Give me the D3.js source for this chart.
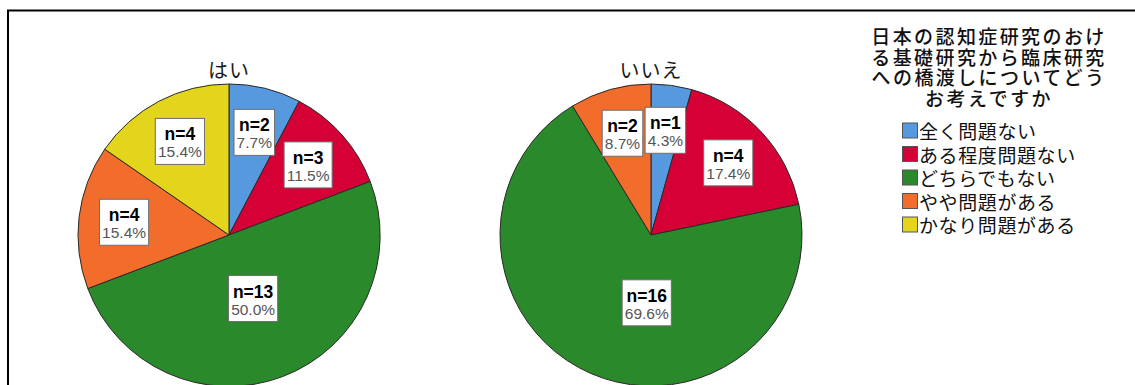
<!DOCTYPE html>
<html>
<head>
<meta charset="utf-8">
<script src="https://cdn.jsdelivr.net/npm/d3@7"></script>
<style>
  html, body { margin: 0; padding: 0; background: #fff; }
  svg { display: block; }
</style>
</head>
<body>
<svg id="chart" width="1135" height="385"></svg>
<script>
const categories = ["全く問題ない", "ある程度問題ない", "どちらでもない", "やや問題がある", "かなり問題がある"];
const groups = ["はい", "いいえ"];
const countsYes = [2, 3, 13, 4, 4];
const countsNo = [1, 4, 16, 2, 0];
const colors = ["#5799DF", "#D50035", "#2A8A2B", "#F26C2C", "#E3D51B"];
const legendTitle = ["日本の認知症研究のおけ", "る基礎研究から臨床研究", "への橋渡しについてどう", "お考えですか"];

const seriesByGroup = [countsYes, countsNo];

const W = 1135, H = 385;
const svg = d3.select("#chart");
const jp = "'Noto Sans CJK JP', 'Noto Sans', sans-serif";
const lat = "'Liberation Sans', Arial, sans-serif";

svg.append("rect").attr("width", W).attr("height", H).attr("fill", "#fff");

// frame
svg.append("line").attr("x1", 7).attr("x2", W).attr("y1", 10.5).attr("y2", 10.5)
  .attr("stroke", "#000").attr("stroke-width", 2);
svg.append("line").attr("x1", 8).attr("x2", 8).attr("y1", 10).attr("y2", H)
  .attr("stroke", "#000").attr("stroke-width", 2);

const xPos = d3.scalePoint().domain(groups).range([229, 651]);
const cy = 235;
const R = 151;

const color = d3.scaleOrdinal().domain(categories).range(colors);
const pie = d3.pie().sort(null).value(d => d.value).startAngle(0).endAngle(2 * Math.PI);
const arc = d3.arc().innerRadius(0).outerRadius(R);

groups.forEach((g, gi) => {
  const vals = seriesByGroup[gi];
  const total = d3.sum(vals);
  const data = categories.map((c, i) => ({ cat: c, value: vals[i] }));
  const arcs = pie(data);
  const cx = xPos(g);
  const gEl = svg.append("g").attr("transform", `translate(${cx},${cy})`);

  gEl.selectAll("path").data(arcs.filter(d => d.data.value > 0)).join("path")
    .attr("d", arc)
    .attr("fill", d => color(d.data.cat))
    .attr("stroke", "#2a2a2a")
    .attr("stroke-width", 1);

  svg.append("text")
    .attr("x", cx).attr("y", cy - R - 15)
    .attr("dominant-baseline", "central")
    .attr("text-anchor", "middle")
    .attr("font-family", jp).attr("font-size", 20).attr("letter-spacing", 1).attr("fill", "#1a1a1a")
    .text(g);

  arcs.filter(d => d.data.value > 0).forEach(d => {
    const frac = d.data.value / total;
    let lr = R * 0.7;
    let dd = d;
    if (frac > 0.4) {
      lr = R * 0.45;
      const mid = Math.min((d.startAngle + d.endAngle) / 2, Math.PI * 1.02);
      dd = { startAngle: mid, endAngle: mid };
    }
    const [lx, ly] = d3.arc().innerRadius(lr).outerRadius(lr).centroid(dd);
    const lg = gEl.append("g").attr("transform", `translate(${lx},${ly})`);
    const rect = lg.append("rect");
    const t1 = lg.append("text").attr("text-anchor", "middle").attr("y", -1)
      .attr("font-family", lat).attr("font-size", 17.5).attr("font-weight", "bold").attr("fill", "#000")
      .text("n=" + d.data.value);
    const t2 = lg.append("text").attr("text-anchor", "middle").attr("y", 16)
      .attr("font-family", lat).attr("font-size", 15.5).attr("fill", "#555")
      .text((frac * 100).toFixed(1) + "%");
    const b1 = t1.node().getBBox(), b2 = t2.node().getBBox();
    const wBox = Math.max(b1.width, b2.width) + 5;
    rect.attr("x", -wBox / 2).attr("y", -23).attr("width", wBox).attr("height", 46)
      .attr("fill", "#fff").attr("stroke", "#6e6e6e").attr("stroke-width", 1);
  });
});

// legend title (one text block, tight line spacing)
const lx0 = 989;
const title = svg.append("text")
  .attr("text-anchor", "middle")
  .attr("font-family", jp).attr("font-size", 19).attr("letter-spacing", 2.4)
  .attr("font-weight", 500).attr("fill", "#111");
legendTitle.forEach((line, i) => {
  title.append("tspan")
    .attr("x", lx0).attr("y", 44 + i * 20.7)
    .text(line);
});
const legendY = d3.scalePoint().domain(categories).range([130.5, 224.5]);
categories.forEach(c => {
  const y = legendY(c);
  svg.append("rect").attr("x", 902.5).attr("y", y - 7.5).attr("width", 15).attr("height", 15)
    .attr("fill", color(c)).attr("stroke", "#555").attr("stroke-width", 1);
  svg.append("text").attr("x", 919).attr("y", y)
    .attr("dominant-baseline", "central")
    .attr("font-family", jp).attr("font-size", 19).attr("letter-spacing", 0.6).attr("fill", "#111")
    .text(c);
});
</script>
</body>
</html>
